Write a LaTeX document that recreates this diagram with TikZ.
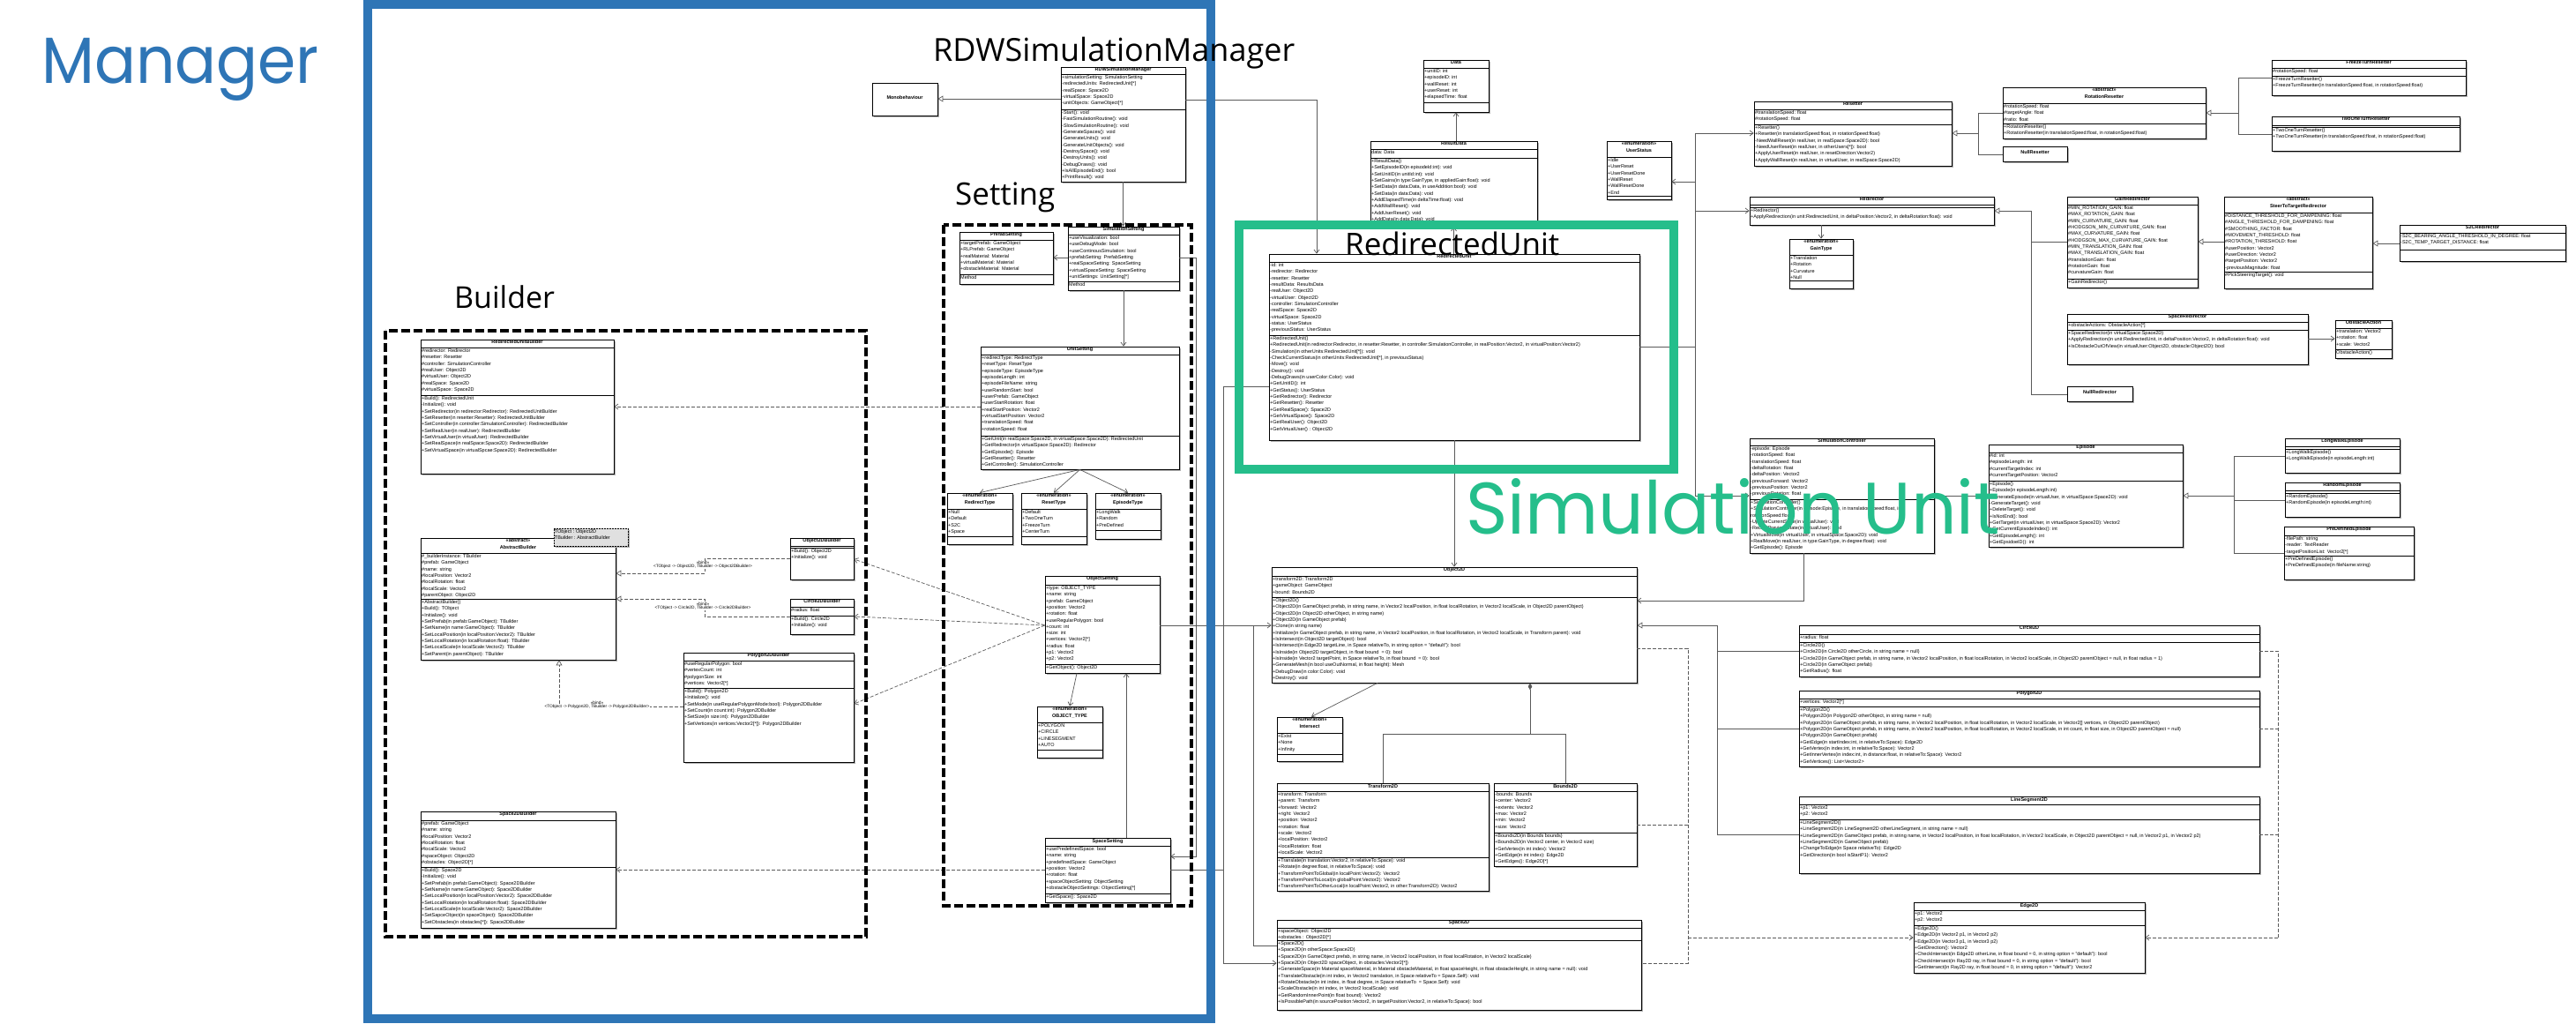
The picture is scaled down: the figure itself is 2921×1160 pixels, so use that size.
\documentclass[tikz,border=0pt]{standalone}
\usepackage{fontspec}
\setmainfont{Liberation Sans}
\newfontfamily\labelfont{Open Sans}
\newfontfamily\roundfont{Poppins}
\usetikzlibrary{arrows.meta,fit,positioning}

\definecolor{mgrblue}{HTML}{2E75B6}
\definecolor{unitgreen}{HTML}{25BE8B}
\definecolor{linegray}{HTML}{5A5A5A}

\newcommand{\memberfont}{\fontsize{5.5}{7.33}\selectfont}

% class box: name, north west, south east, y of header line, y of attribute line, title, attributes, methods
\newcommand{\umlclass}[8]{%
  \fill[black!30, shift={(2,2)}] (#2) rectangle (#3);
  \path (#2) coordinate (#1-nw) (#3) coordinate (#1-se);
  \node[classnode, fit=(#1-nw)(#1-se)] (#1) {};
  \draw[classline] (#2 |- 0,#4) -- (#3 |- 0,#4);
  \draw[classline] (#2 |- 0,#5) -- (#3 |- 0,#5);
  \node[classtitle] at (#1.north) {#6};
  \node[members] at (#2 |- 0,#4) {#7};
  \node[members] at (#2 |- 0,#5) {#8};
}
% box with a name only
\newcommand{\umlplain}[4]{%
  \fill[black!30, shift={(2,2)}] (#2) rectangle (#3);
  \path (#2) coordinate (#1-nw) (#3) coordinate (#1-se);
  \node[classnode, fit=(#1-nw)(#1-se), font=\bfseries\memberfont] (#1) {#4};
}

\begin{document}
\begin{tikzpicture}[x=1pt, y=-1pt,
    classnode/.style={draw=black, line width=0.8pt, fill=white, inner sep=0pt},
    classline/.style={draw=black, line width=0.8pt},
    classtitle/.style={anchor=north, font=\bfseries\memberfont, align=center, inner sep=1.2pt},
    members/.style={anchor=north west, font=\memberfont, align=left, inner xsep=1pt, inner ysep=1.3pt},
    link/.style={draw=linegray, line width=0.7pt},
    assoc/.style={link, -{Straight Barb[length=4pt,width=6pt]}},
    gen/.style={link, -{Triangle[open,length=6pt,width=7pt]}},
    comp/.style={link, -{Diamond[length=8pt,width=4.5pt]}},
    dep/.style={link, dash pattern=on 4pt off 2pt},
    deparrow/.style={dep, -{Straight Barb[length=4pt,width=6pt]}},
    realize/.style={dep, -{Triangle[open,length=6pt,width=7pt]}},
    bindlabel/.style={font=\fontsize{4.8}{6}\selectfont, fill=white, inner sep=0.5pt},
    groupbox/.style={draw=black, line width=4pt, dash pattern=on 10pt off 4pt},
    biglabel/.style={anchor=base west, inner sep=0pt}]
  \useasboundingbox (0,0) rectangle (2921,1160);
  \fill[white] (0,0) rectangle (2921,1160);

  % ---------- manager ----------
  \umlplain{mono}{989,94}{1063,131}{Monobehaviour}
  \umlclass{rdw}{1203,76}{1344,206}{84}{124}{RDWSimulationManager}
    {+simulationSetting: SimulationSetting\\-redirectedUnits: RedirectedUnit[*]\\-realSpace: Space2D\\-virtualSpace: Space2D\\-unitObjects: GameObject[*]}
    {-Start(): void\\-FastSimulationRoutine(): void\\-SlowSimulationRoutine(): void\\-GenerateSpaces(): void\\-GenerateUnits(): void\\-GenerateUnitObjects(): void\\-DestroySpace(): void\\-DestroyUnits(): void\\-DebugDraws(): void\\+IsAllEpisodeEnd(): bool\\+PrintResult(): void}

  % ---------- setting ----------
  \umlclass{prefab}{1088,263}{1194,322}{272}{311}{PrefabSetting}
    {+targetPrefab: GameObject\\+RLPrefab: GameObject\\+realMaterial: Material\\+virtualMaterial: Material\\+obstacleMaterial: Material}
    {Method}
  \umlclass{simset}{1211,257}{1337,329}{266}{319}{SimulationSetting}
    {+useVisualization: bool\\+useDebugMode: bool\\+useContinousSimulation: bool\\+prefabSetting: PrefabSetting\\+realSpaceSetting: SpaceSetting\\+virtualSpaceSetting: SpaceSetting\\+unitSettings: UnitSetting[*]}
    {Method}
  \umlclass{unitset}{1112,393}{1337,532}{402}{494}{UnitSetting}
    {+redirectType: RedirectType\\+resetType: ResetType\\+episodeType: EpisodeType\\+episodeLength: int\\+episodeFileName: string\\+useRandomStart: bool\\+userPrefab: GameObject\\+userStartRotation: float\\+realStartPosition: Vector2\\+virtualStartPosition: Vector2\\+translationSpeed: float\\+rotationSpeed: float}
    {+GetUnit(in realSpace:Space2D, in virtualSpace:Space2D): RedirectedUnit\\+GetRedirector(in virtualSpace:Space2D): Redirector\\+GetEpisode(): Episode\\+GetResetter(): Resetter\\+GetController(): SimulationController}
  \umlclass{redtype}{1074,559}{1148,617}{577}{608}{<<enumeration>>\\RedirectType}
    {+Null\\+Default\\+S2C\\+Space}{}
  \umlclass{resettype}{1158,559}{1232,617}{577}{608}{<<enumeration>>\\ResetType}
    {+Default\\+TwoOneTurn\\+FreezeTurn\\+CenterTurn}{}
  \umlclass{episodetype}{1242,559}{1316,611}{577}{601}{<<enumeration>>\\EpisodeType}
    {+LongWalk\\+Random\\+PreDefined}{}
  \umlclass{objset}{1185,653}{1315,763}{663}{753}{ObjectSetting}
    {+type: OBJECT\_TYPE\\+name: string\\+prefab: GameObject\\+position: Vector2\\+rotation: float\\+useRegularPolygon: bool\\+count: int\\+size: int\\+vertices: Vector2[*]\\+radius: float\\+p1: Vector2\\+p2: Vector2}
    {+GetObject(): Object2D}
  \umlclass{objtype}{1176,801}{1250,859}{819}{850}{<<enumeration>>\\OBJECT\_TYPE}
    {+POLYGON\\+CIRCLE\\+LINESEGMENT\\+AUTO}{}
  \umlclass{spaceset}{1185,950}{1327,1023}{959}{1013}{SpaceSetting}
    {+usePredefinedSpace: bool\\+name: string\\+predefinedSpace: GameObject\\+position: Vector2\\+rotation: float\\+spaceObjectSetting: ObjectSetting\\+obstacleObjectSettings: ObjectSetting[*]}
    {+GetSpace(): Space2D}

  % ---------- builder ----------
  \umlclass{rubuilder}{477,385}{696,537}{394}{448}{RedirectedUnitBuilder}
    {\#redirector: Redirector\\\#resetter: Resetter\\\#controller: SimulationController\\\#realUser: Object2D\\\#virtualUser: Object2D\\\#realSpace: Space2D\\\#virtualSpace: Space2D}
    {+Build(): RedirectedUnit\\-Initialize(): void\\+SetRedirector(in redirector:Redirector): RedirectedUnitBuilder\\+SetResetter(in resetter:Resetter): RedirectedUnitBuilder\\+SetController(in controller:SimulationController): RedirectedBuilder\\+SetRealUser(in realUser): RedirectedBuilder\\+SetVirtualUser(in virtualUser): RedirectedBuilder\\+SetRealSpace(in realSpace:Space2D): RedirectedBuilder\\+SetVirtualSpace(in virtualSpcae:Space2D): RedirectedBuilder}
  \umlclass{absbuilder}{477,610}{698,748}{627}{679}{<<abstract>>\\AbstractBuilder}
    {\#\_builderInstance: TBuilder\\\#prefab: GameObject\\\#name: string\\\#localPosition: Vector2\\\#localRotation: float\\\#localScale: Vector2\\\#parentObject: Object2D}
    {+AbstractBuilder()\\+Build(): TObject\\+Initialize(): void\\+SetPrefab(in prefab:GameObject): TBuilder\\+SetName(in name:GameObject): TBuilder\\+SetLocalPosition(in localPosition:Vector2): TBuilder\\+SetLocalRotation(in localRotation:float): TBuilder\\+SetLocalScale(in localScale:Vector2): TBuilder\\+SetParent(in parentObject): TBuilder}
  \fill[black!30, shift={(2,2)}] (628,599) rectangle (712,619);
  \path (628,599) coordinate (tparam-nw) (712,619) coordinate (tparam-se);
  \node[draw=black, dash pattern=on 2pt off 1pt, line width=0.6pt, fill=black!12, inner sep=0pt, fit=(tparam-nw)(tparam-se)] (tparam) {};
  \node[members] at (tparam.north west) {TObject : Object2D\\TBuilder : AbstractBuilder};
  \umlclass{objbuilder}{896,610}{968,657}{619}{621}{Object2DBuilder}
    {}{+Build(): Object2D\\+Initialize(): void}
  \umlclass{circbuilder}{896,679}{968,719}{688}{698}{Circle2DBuilder}
    {\#radius: float}{+Build(): Circle2D\\+Initialize(): void}
  \umlclass{polybuilder}{775,740}{968,864}{749}{780}{Polygon2DBuilder}
    {\#useRegularPolygon: bool\\\#vertexCount: int\\\#polygonSize: int\\\#vertices: Vector2[*]}
    {+Build(): Polygon2D\\+Initialize(): void\\+SetMode(in useRegularPolygonMode:bool): Polygon2DBuilder\\+SetCount(in count:int): Polygon2DBuilder\\+SetSize(in size:int): Polygon2DBuilder\\+SetVertices(in vertices:Vector2[*]): Polygon2DBuilder}
  \umlclass{spacebuilder}{477,920}{698,1052}{930}{983}{Space2DBuilder}
    {\#prefab: GameObject\\\#name: string\\\#localPosition: Vector2\\\#localRotation: float\\\#localScale: Vector2\\\#spaceObject: Object2D\\\#obstacles: Object2D[*]}
    {+Build(): Space2D\\-Initialize(): void\\+SetPrefab(in prefab:GameObject): Space2DBuilder\\+SetName(in name:GameObject): Space2DBuilder\\+SetLocalPosition(in localPosition:Vector2): Space2DBuilder\\+SetLocalRotation(in localRotation:float): Space2DBuilder\\+SetLocalScale(in localScale:Vector2): Space2DBuilder\\+SetSapceObject(in spaceObject): Space2DBuilder\\+SetObstacles(in obstacles[*]): Space2DBuilder}

  % ---------- redirected unit ----------
  \umlclass{data}{1614,68}{1688,127}{77}{116}{Data}
    {+unitID: int\\+episodeID: int\\+wallReset: int\\+userReset: int\\+elapsedTime: float}{}
  \umlclass{resultdata}{1554,160}{1743,257}{169}{179}{ResultData}
    {data: Data}
    {+ResultData()\\+SetEpisodeID(in episodeId:int): void\\+SetUnitID(in unitId:int): void\\+SetGains(in type:GainType, in appliedGain:float): void\\+SetData(in data:Data, in useAddition:bool): void\\+SetData(in data:Data): void\\+AddElapsedTime(in deltaTime:float): void\\+AddWallReset(): void\\+AddUserReset(): void\\+AddData(in data:Data): void}
  \umlclass{userstatus}{1822,160}{1895,226}{178}{222}{<<enumeration>>\\UserStatus}
    {+Idle\\+UserReset\\+UserResetDone\\+WallReset\\+WallResetDone\\+End}{}
  \umlclass{redunit}{1439,288}{1859,499}{297}{380}{RedirectedUnit}
    {-id: int\\-redirector: Redirector\\-resetter: Resetter\\-resultData: ResultsData\\-realUser: Object2D\\-virtualUser: Object2D\\-controller: SimulationController\\-realSpace: Space2D\\-virtualSpace: Space2D\\-status: UserStatus\\-previousStatus: UserStatus}
    {+RedirectedUnit()\\+RedirectedUnit(in redirector:Redirector, in resetter:Resetter, in controller:SimulationController, in realPosition:Vector2, in virtualPosition:Vector2)\\-Simulation(in otherUnits:RedirectedUnit[*]): void\\-CheckCurrentStatus(in otherUnits:RedirectedUnit[*], in previousStatus)\\-Move(): void\\-Destroy(): void\\-DebugDraws(in userColor:Color): void\\+GetUnitID(): int\\+GetStatus(): UserStatus\\+GetRedirector(): Redirector\\+GetResetter(): Resetter\\+GetRealSpace(): Space2D\\+GetVirtualSpace(): Space2D\\+GetRealUser(): Object2D\\+GetVirtualUser() : Object2D}

  % ---------- resetters ----------
  \umlclass{resetter}{1989,115}{2213,188}{124}{141}{Resetter}
    {\#translationSpeed: float\\\#rotationSpeed: float}
    {+Resetter()\\+Resetter(in translationSpeed:float, in rotationSpeed:float)\\-NeedWallReset(in realUser, in realSpace:Space2D): bool\\-NeedUserReset(in realUser, in otherUsers[*]): bool\\+ApplyUserReset(in realUser, in resetDirection:Vector2)\\+ApplyWallReset(in realUser, in virtualUser, in realSpace:Space2D)}
  \umlclass{rotres}{2271,99}{2501,157}{117}{140}{<<abstract>>\\RotationResetter}
    {\#rotationSpeed: float\\\#targetAngle: float\\\#ratio: float}
    {+RotationResetter()\\+RotationResetter(in translationSpeed:float, in rotationSpeed:float)}
  \umlplain{nullres}{2271,166}{2344,183}{NullResetter}
  \umlclass{freeze}{2576,68}{2796,108}{77}{86}{FreezeTurnResetter}
    {\#rotationSpeed: float}
    {+FreezeTurnResetter()\\+FreezeTurnResetter(in translationSpeed:float, in rotationSpeed:float)}
  \umlclass{twoone}{2576,132}{2789,171}{142}{144}{TwoOneTurnResetter}
    {}{+TwoOneTurnResetter()\\+TwoOneTurnResetter(in translationSpeed:float, in rotationSpeed:float)}

  % ---------- redirectors ----------
  \umlclass{redirector}{1984,223}{2261,255}{232}{235}{Redirector}
    {}{+Redirector()\\+ApplyRedirection(in unit:RedirectedUnit, in deltaPosition:Vector2, in deltaRotation:float): void}
  \umlclass{gaintype}{2029,271}{2101,327}{289}{318}{<<enumeration>>\\GainType}
    {+Translation\\+Rotation\\+Curvature\\+Null}{}
  \umlclass{gainred}{2344,223}{2492,326}{232}{316}{GainRedirector}
    {\#MIN\_ROTATION\_GAIN: float\\\#MAX\_ROTATION\_GAIN: float\\\#MIN\_CURVATURE\_GAIN: float\\\#HODGSON\_MIN\_CURVATURE\_GAIN: float\\\#MAX\_CURVATURE\_GAIN: float\\\#HODGSON\_MAX\_CURVATURE\_GAIN: float\\\#MIN\_TRANSLATION\_GAIN: float\\\#MAX\_TRANSLATION\_GAIN: float\\\#translationGain: float\\\#rotationGain: float\\\#curvatureGain: float}
    {+GainRedirector()}
  \umlclass{stt}{2522,223}{2690,327}{241}{308}{<<abstract>>\\SteerToTargetRedirector}
    {\#DISTANCE\_THRESHOLD\_FOR\_DAMPENING: float\\\#ANGLE\_THRESHOLD\_FOR\_DAMPENING: float\\\#SMOOTHING\_FACTOR: float\\\#MOVEMENT\_THRESHOLD: float\\\#ROTATION\_THRESHOLD: float\\\#userPosition: Vector2\\\#userDirection: Vector2\\\#targetPosition: Vector2\\-previousMagnitude: float}
    {\#PickSteeringTarget(): void}
  \umlclass{s2c}{2721,255}{2909,296}{264}{283}{S2CRedirector}
    {-S2C\_BEARING\_ANGLE\_THRESHOLD\_IN\_DEGREE: float\\-S2C\_TEMP\_TARGET\_DISTANCE: float}{}
  \umlclass{spacered}{2344,356}{2617,413}{365}{374}{SpaceRedirector}
    {+obstacleActions: ObstacleAction[*]}
    {+SpaceRedirector(in virtualSpace:Space2D)\\+ApplyRedirection(in unit:RedirectedUnit, in deltaPosition:Vector2, in deltaRotation:float): void\\+IsObstacleOutOfView(in virtualUser:Object2D, obstacle:Object2D): bool}
  \umlclass{obstacle}{2648,363}{2712,406}{372}{396}{ObstacleAction}
    {+translation: Vector2\\+rotation: float\\+scale: Vector2}{ObstacleAction()}
  \umlplain{nullred}{2344,438}{2418,455}{NullRedirector}

  % ---------- controller and episodes ----------
  \umlclass{simctrl}{1984,497}{2193,627}{505}{566}{SimulationController}
    {-episode: Episode\\-rotationSpeed: float\\-translationSpeed: float\\-deltaRotation: float\\-deltaPosition: Vector2\\-previousForward: Vector2\\-previousPosition: Vector2\\-previousRotation: float}
    {+SimulationController()\\+SimulationController(in episode:Episode, in translationSpeed:float, in\\rotationSpeed:float)\\-UpdateCurrentState(in virtualUser): void\\-RecordPreviousState(in virtualUser): void\\+VirtualMove(in virtualUser, in virtualSpace:Space2D): void\\+RealMove(in realUser, in type:GainType, in degree:float): void\\+GetEpisode(): Episode}
  \umlclass{episode}{2255,504}{2475,620}{513}{545}{Episode}
    {\#id: int\\\#episodeLength: int\\\#currentTargetIndex: int\\\#currentTargetPosition: Vector2}
    {+Episode()\\+Episode(in episodeLength:int)\\-GenerateEpisode(in virtualUser, in virtualSpace:Space2D): void\\-GenerateTarget(): void\\+DeleteTarget(): void\\+IsNotEnd(): bool\\+GetTarget(in virtualUser, in virtualSpace:Space2D): Vector2\\+GetCurrentEpisodeIndex(): int\\+GetEpisodeLength(): int\\+GetEpsidoeID(): int}
  \umlclass{longwalk}{2591,497}{2721,536}{506}{509}{LongWalkEpisode}
    {}{+LongWalkEpisode()\\+LongWalkEpisode(in episodeLength:int)}
  \umlclass{random}{2591,547}{2721,586}{556}{559}{RandomEpisode}
    {}{+RandomEpisode()\\+RandomEpisode(in episodeLength:int)}
  \umlclass{predef}{2590,597}{2737,657}{607}{630}{PreDefinedEpisode}
    {-filePath: string\\-reader: TextReader\\-targetPositionList: Vector2[*]}
    {+PreDefinedEpisode()\\+PreDefinedEpisode(in fileName:string)}

  % ---------- geometry ----------
  \umlclass{object2d}{1442,643}{1856,774}{653}{677}{Object2D}
    {+transform2D: Transform2D\\+gameObject: GameObject\\+bound: Bounds2D}
    {+Object2D()\\+Object2D(in GameObject prefab, in string name, in Vector2 localPosition, in float localRotation, in Vector2 localScale, in Object2D parentObject)\\+Object2D(in Object2D otherObject, in string name)\\+Object2D(in GameObject prefab)\\+Clone(in string name)\\+Initialize(in GameObject prefab, in string name, in Vector2 localPosition, in float localRotation, in Vector2 localScale, in Transform parent): void\\+IsIntersect(in Object2D targetObject): bool\\+IsIntersect(in Edge2D targetLine, in Space relativeTo, in string option = "default"): bool\\+IsInside(in Object2D targetObject, in float bound \ = 0): bool\\+IsInside(in Vector2 targetPoint, in Space relativeTo, in float bound \ = 0): bool\\+GenerateMesh(in bool useOutNormal, in float height): Mesh\\+DebugDraw(in color:Color): void\\+Destroy(): void}
  \umlclass{intersect}{1448,813}{1522,863}{831}{855}{<<enumeration>>\\Intersect}
    {+Exist\\+None\\+Infinity}{}
  \umlclass{transform}{1448,888}{1688,1010}{897}{972}{Transform2D}
    {+transform: Transform\\+parent: Transform\\+forward: Vector2\\+right: Vector2\\+position: Vector2\\+rotation: float\\+scale: Vector2\\+localPosition: Vector2\\+localRotation: float\\+localScale: Vector2}
    {+Translate(in translation:Vector2, in relativeTo:Space): void\\+Rotate(in degree:float, in relativeTo:Space): void\\+TransformPointToGlobal(in localPoint:Vector2): Vector2\\+TransformPointToLocal(in globalPoint:Vector2): Vector2\\+TransformPointToOtherLocal(in localPoint:Vector2, in other:Transform2D): Vector2}
  \umlclass{bounds}{1694,888}{1856,982}{897}{944}{Bounds2D}
    {-bounds: Bounds\\+center: Vector2\\+extents: Vector2\\+max: Vector2\\+min: Vector2\\+size: Vector2}
    {+Bounds2D(in Bounds bounds)\\+Bounds2D(in Vector2 center, in Vector2 size)\\+GetVertex(in int index): Vector2\\+GetEdge(in int index): Edge2D\\+GetEdges(): Edge2D[*]}
  \umlclass{space2d}{1448,1043}{1861,1145}{1052}{1066}{Space2D}
    {+spaceObject: Object2D\\+obstacles : Object2D[*]}
    {+Space2D()\\+Space2D(in otherSpace:Space2D)\\+Space2D(in GameObject prefab, in string name, in Vector2 localPosition, in float localRotation, in Vector2 localScale)\\+Space2D(in Object2D spaceObject, in obstacles:Vector2[*])\\+GenerateSpace(in Material spaceMaterial, in Material obstacleMaterial, in float spaceHeight, in float obstacleHeight, in string name = null): void\\+TranslateObstacle(in int index, in Vector2 translation, in Space relativeTo = Space.Self): void\\+RotateObstacle(in int index, in float degree, in Space relativeTo \ = Space.Self): void\\+ScaleObstacle(in int index, in Vector2 localScale): void\\+GetRandomInnerPoint(in float bound): Vector2\\+IsPossiblePath(in sourcePosition:Vector2, in targetPosition:Vector2, in relativeTo:Space): bool}
  \umlclass{circle}{2040,709}{2562,767}{719}{728}{Circle2D}
    {+radius: float}
    {+Circle2D()\\+Circle2D(in Circle2D otherCircle, in string name = null)\\+Circle2D(in GameObject prefab, in string name, in Vector2 localPosition, in float localRotation, in Vector2 localScale, in Object2D parentObject = null, in float radius = 1)\\+Circle2D(in GameObject prefab)\\+GetRadius(): float}
  \umlclass{polygon}{2040,783}{2562,869}{792}{801}{Polygon2D}
    {+vertices: Vector2[*]}
    {+Polygon2D()\\+Polygon2D(in Polygon2D otherObject, in string name = null)\\+Polygon2D(in GameObject prefab, in string name, in Vector2 localPosition, in float localRotation, in Vector2 localScale, in Vector2[] vertices, in Object2D parentObject)\\+Polygon2D(in GameObject prefab, in string name, in Vector2 localPosition, in float localRotation, in Vector2 localScale, in int count, in float size, in Object2D parentObject = null)\\+Polygon2D(in GameObject prefab)\\+GetEdge(in startIndex:int, in relativeTo:Space): Edge2D\\+GetVertex(in index:int, in relativeTo:Space): Vector2\\+GetInnerVertex(in index:int, in distance:float, in relativeTo:Space): Vector2\\+GetVertices(): List<Vector2>}
  \umlclass{lineseg}{2040,903}{2562,990}{912}{929}{LineSegment2D}
    {+p1: Vector2\\+p2: Vector2}
    {+LineSegment2D()\\+LineSegment2D(in LineSegment2D otherLineSegment, in string name = null)\\+LineSegment2D(in GameObject prefab, in string name, in Vector2 localPosition, in float localRotation, in Vector2 localScale, in Object2D parentObject = null, in Vector2 p1, in Vector2 p2)\\+LineSegment2D(in GameObject prefab)\\+ChangeToEdge(in Space relativeTo): Edge2D\\+GetDirection(in bool isStartP1): Vector2}
  \umlclass{edge}{2170,1023}{2432,1103}{1032}{1049}{Edge2D}
    {+p1: Vector2\\+p2: Vector2}
    {+Edge2D()\\+Edge2D(in Vector2 p1, in Vector2 p2)\\+Edge2D(in Vector3 p1, in Vector3 p2)\\+GetDirection(): Vector2\\+CheckIntersect(in Edge2D otherLine, in float bound = 0, in string option = "default"): bool\\+CheckIntersect(in Ray2D ray, in float bound = 0, in string option = "default"): bool\\+GetIntersect(in Ray2D ray, in float bound = 0, in string option = "default"): Vector2}

  % ---------- connectors ----------
  \coordinate (rdwbend) at (1493,113);
  \coordinate (setbus) at (1356,292);
  \coordinate (objbus) at (1421,709);
  \coordinate (spacebus) at (1387,438);
  \coordinate (unitbus) at (1922,151);
  \coordinate (resbus) at (2243,151);
  \coordinate (rotbus) at (2538,128);
  \coordinate (redbus) at (2303,239);
  \coordinate (epbus) at (2533,562);
  \coordinate (shapebus) at (1947,709);
  \coordinate (partbus) at (1735,832);
  \coordinate (edgebusL) at (1914,1063);
  \coordinate (edgebusR) at (2583,1063);

  \draw[gen] (rdw.west |- 0,112) -- (mono.east |- 0,112);
  \draw[assoc] (rdw.south) -- (rdw.south |- simset.north);
  \draw[assoc] (rdw.east |- rdwbend) -- (rdwbend) -- (rdwbend |- redunit.north);
  \draw[assoc] (simset.west |- setbus) -- (prefab.east |- setbus);
  \draw[assoc] (simset.south) -- (simset.south |- unitset.north);
  \draw[assoc] (simset.east |- setbus) -- (setbus) |- (spaceset.east |- 0,971);
  \draw[deparrow] (unitset.west |- 0,461) -- (rubuilder.east |- 0,461);
  \foreach \e in {redtype, resettype, episodetype}
    \draw[assoc] (unitset.south) -- (\e.north);
  \draw[assoc] (objtype.north |- objset.south) ++(8,0) -- (objtype.north);
  \draw[assoc] (objset.east |- objbus) -- (object2d.west |- objbus);
  \draw[link] (objbus) |- (space2d.west |- 0,1072);
  \draw[assoc] (redunit.west |- spacebus) -- (spacebus) |- (space2d.west |- 0,1092);
  \draw[link] (spaceset.east |- 0,986) -- (spacebus |- 0,986);
  \draw[assoc] (spaceset.north -| 1277,0) -- (objset.south -| 1277,0);
  \foreach \b/\y in {objbuilder/634, circbuilder/699, polybuilder/798}
    \draw[deparrow] (objset.west |- objbus) -- (\b.east |- 0,\y);
  \draw[deparrow] (spaceset.west |- 0,986) -- (spacebuilder.east |- 0,986);

  % bind relations
  \draw[realize] (objbuilder.west |- 0,633) -- (799,633) -- (799,650) -- (absbuilder.east |- 0,650);
  \draw[realize] (circbuilder.west |- 0,699) -- (799,699) -- (799,679) -- (absbuilder.east |- 0,679);
  \draw[realize] (polybuilder.west |- 0,801) -| (absbuilder.south -| 634,0);
  \node[bindlabel] (bindA) at (797,638) {<<bind>>};
  \node[bindlabel, below=-1.5pt of bindA] {<TObject -> Object2D, TBuilder -> Object2DBuilder>};
  \node[bindlabel] (bindB) at (797,685) {<<bind>>};
  \node[bindlabel, below=-1.5pt of bindB] {<TObject -> Circle2D, TBuilder -> Circle2DBuilder>};
  \node[bindlabel] (bindC) at (677,797) {<<bind>>};
  \node[bindlabel, below=-1.5pt of bindC] {<TObject -> Polygon2D, TBuilder -> Polygon2DBuilder>};

  % unit relations
  \draw[assoc] (redunit.south) -- (object2d.north);
  \draw[assoc] (resultdata.south |- redunit.north) -- (resultdata.south);
  \draw[assoc] (data.south |- resultdata.north) -- (data.south);
  \draw[link] (redunit.east |- 0,393) -- (unitbus |- 0,393);
  \draw[link] (unitbus) -- (unitbus |- 0,562);
  \draw[assoc] (unitbus) -- (resetter.west |- unitbus);
  \draw[assoc] (unitbus |- redbus) -- (redirector.west |- redbus);
  \draw[assoc] (unitbus |- 0,206) -- (userstatus.east |- 0,206);
  \draw[assoc] (unitbus |- epbus) -- (simctrl.west |- epbus);

  % resetter hierarchy
  \draw[gen] (resbus) -- (resetter.east |- resbus);
  \draw[link] (rotres.west |- rotbus) -| (resbus) |- (nullres.west |- 0,175);
  \draw[gen] (rotbus) -- (rotres.east |- rotbus);
  \draw[link] (freeze.west |- 0,88) -| (rotbus) |- (twoone.west |- 0,152);

  % redirector hierarchy
  \draw[gen] (redbus) -- (redirector.east |- redbus);
  \draw[link] (redbus) |- (nullred.west |- 0,447);
  \draw[link] (redbus |- 0,274) -- (gainred.west |- 0,274);
  \draw[assoc] (gaintype.north |- redirector.south) -- (gaintype.north);
  \draw[gen] (stt.west |- 0,274) -- (gainred.east |- 0,274);
  \draw[gen] (s2c.west |- 0,276) -- (stt.east |- 0,276);
  \draw[assoc] (spacered.east |- 0,384) -- (obstacle.west |- 0,384);

  % controller and episodes
  \draw[assoc] (simctrl.east |- epbus) -- (episode.west |- epbus);
  \draw[gen] (epbus) -- (episode.east |- epbus);
  \draw[link] (longwalk.west |- 0,517) -| (epbus) |- (predef.west |- 0,627);
  \draw[link] (epbus |- 0,567) -- (random.west |- 0,567);
  \draw[assoc] (simctrl.south -| 2045,0) |- (object2d.east |- 0,681);

  % geometry relations
  \draw[assoc] (object2d.south -| 1562,0) -- (intersect.north -| 1487,0);
  \draw[comp] (partbus) -- (partbus |- object2d.south);
  \draw[link] (transform.north) |- (bounds.north |- partbus) -- (bounds.north);
  \draw[gen] (shapebus) -- (object2d.east |- shapebus);
  \draw[link] (circle.west |- 0,738) -| (shapebus) |- (lineseg.west |- 0,946);
  \draw[link] (shapebus |- 0,826) -- (polygon.west |- 0,826);
  \draw[dep] (object2d.east |- 0,735) -| (edgebusL |- 0,1092) -- (space2d.east |- 0,1092);
  \draw[dep] (bounds.east |- 0,935) -- (edgebusL |- 0,935);
  \draw[deparrow] (edgebusL) -- (edge.west |- edgebusL);
  \draw[dep] (circle.east |- 0,738) -| (edgebusR);
  \draw[deparrow] (edgebusR) -- (edge.east |- edgebusR);
  \draw[dep] (polygon.east |- 0,826) -- (edgebusR |- 0,826);
  \draw[dep] (lineseg.east |- 0,946) -- (edgebusR |- 0,946);

  % ---------- groups and labels ----------
  \draw[groupbox] (1070,255) rectangle (1351,1027);
  \draw[groupbox] (437,375) rectangle (982,1062);
  \draw[mgrblue, line width=10pt] (417,5) rectangle (1373,1155);
  \draw[unitgreen, line width=10pt] (1405,255) rectangle (1898,532);

  \node[biglabel, font=\roundfont\fontsize{74}{74}\selectfont, text=mgrblue] (mgrlabel) at (47,94) {\scalebox{0.94}[1]{Manager}};
  \node[biglabel, font=\labelfont\fontsize{36}{36}\selectfont] (rdwlabel) at (1058,69) {RDWSimulationManager};
  \node[biglabel, font=\labelfont\fontsize{35}{35}\selectfont] (setlabel) at (1083,232) {Setting};
  \node[biglabel, font=\labelfont\fontsize{34}{34}\selectfont] (buildlabel) at (515,349) {Builder};
  \node[biglabel, font=\labelfont\fontsize{35}{35}\selectfont] (unitlabel) at (1525,289) {RedirectedUnit};
  \node[biglabel, font=\roundfont\fontsize{90}{90}\selectfont, text=unitgreen] (simlabel) at (1662,605) {\resizebox{606pt}{63pt}{Simulation Unit}};
\end{tikzpicture}
\end{document}
